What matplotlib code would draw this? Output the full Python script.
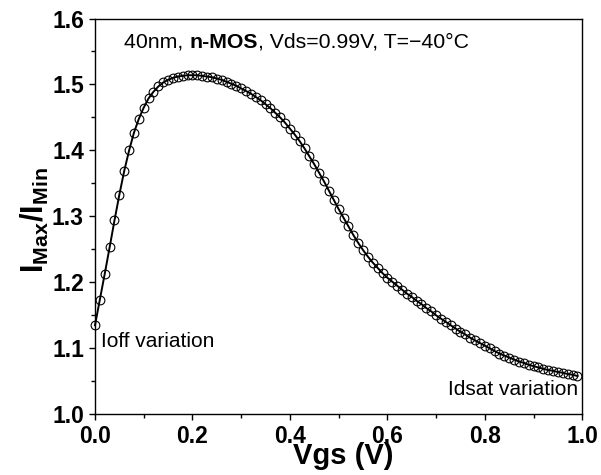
import matplotlib
matplotlib.use("Agg")
import matplotlib.pyplot as plt
from matplotlib.ticker import MultipleLocator

# --- data (Vgs step 0.01 V) ---
vgs = [i / 100 for i in range(100)]
ratio = [
    1.135, 1.174, 1.213, 1.253, 1.294, 1.333, 1.369, 1.400, 1.427, 1.448,
    1.465, 1.479, 1.489, 1.497, 1.503, 1.507, 1.510, 1.512, 1.513, 1.514,
    1.514, 1.514, 1.513, 1.512, 1.511, 1.509, 1.507, 1.504, 1.501, 1.498,
    1.494, 1.490, 1.486, 1.481, 1.476, 1.470, 1.464, 1.457, 1.450, 1.442,
    1.433, 1.424, 1.414, 1.403, 1.391, 1.379, 1.366, 1.353, 1.339, 1.325,
    1.311, 1.298, 1.285, 1.272, 1.260, 1.249, 1.239, 1.230, 1.222, 1.214,
    1.207, 1.201, 1.195, 1.189, 1.183, 1.178, 1.172, 1.167, 1.161, 1.156,
    1.150, 1.145, 1.140, 1.135, 1.130, 1.125, 1.121, 1.116, 1.112, 1.108,
    1.104, 1.100, 1.096, 1.092, 1.089, 1.086, 1.083, 1.080, 1.078, 1.075,
    1.073, 1.071, 1.069, 1.067, 1.066, 1.064, 1.063, 1.061, 1.060, 1.058,
]

plt.rcParams["font.family"] = ["Liberation Sans", "DejaVu Sans"]
plt.rcParams["mathtext.fontset"] = "custom"
plt.rcParams["mathtext.rm"] = "Liberation Sans"
plt.rcParams["mathtext.bf"] = "Liberation Sans:bold"

fig = plt.figure(figsize=(6.01, 4.75), dpi=100)
ax = fig.add_axes([95 / 601, 1 - 414.3 / 475, 487.3 / 601, 395.8 / 475])

ax.plot(vgs, ratio, color="black", lw=1.4, marker="o", ms=6.3,
        mfc="none", mec="black", mew=0.8, clip_on=False)

ax.set_xlim(0, 1.0)
ax.set_ylim(1.0, 1.6)
ax.xaxis.set_major_locator(MultipleLocator(0.2))
ax.xaxis.set_minor_locator(MultipleLocator(0.1))
ax.yaxis.set_major_locator(MultipleLocator(0.1))
ax.yaxis.set_minor_locator(MultipleLocator(0.05))
ax.xaxis.set_major_formatter(lambda v, p: f"{v:.1f}")
ax.yaxis.set_major_formatter(lambda v, p: f"{v:.1f}")
ax.tick_params(which="major", direction="out", length=4.5, width=1, labelsize=16.5)
ax.tick_params(which="minor", direction="out", length=3, width=1)
for lab in ax.get_xticklabels() + ax.get_yticklabels():
    lab.set_fontweight("bold")
for sp in ax.spines.values():
    sp.set_linewidth(1)

ax.set_xlabel("Vgs (V)", fontsize=21, fontweight="bold", va="top")
ax.xaxis.set_label_coords(0.509, -0.07)
ax.set_ylabel(r"$\mathbf{I_{Max}/I_{Min}}$", fontsize=22, va="center")
ax.yaxis.set_label_coords(-0.123, 0.49)

# header line: regular / bold / regular pieces
t1 = ax.text(0.060, 0.9255, "40nm, ", transform=ax.transAxes, fontsize=15.3, va="baseline")
t2 = ax.annotate("n-MOS", xy=(1, 0), xycoords=t1, fontsize=15.3, fontweight="bold", va="bottom")
ax.annotate(", Vds=0.99V, T=\u221240\u00b0C", xy=(1, 0), xycoords=t2, fontsize=15.3, va="bottom")

ax.text(0.0117, 0.1708, "Ioff variation", transform=ax.transAxes, fontsize=15, va="baseline")
ax.text(0.9918, 0.0488, "Idsat variation", transform=ax.transAxes, fontsize=15,
        va="baseline", ha="right")

fig.savefig("out.png", dpi=100)
